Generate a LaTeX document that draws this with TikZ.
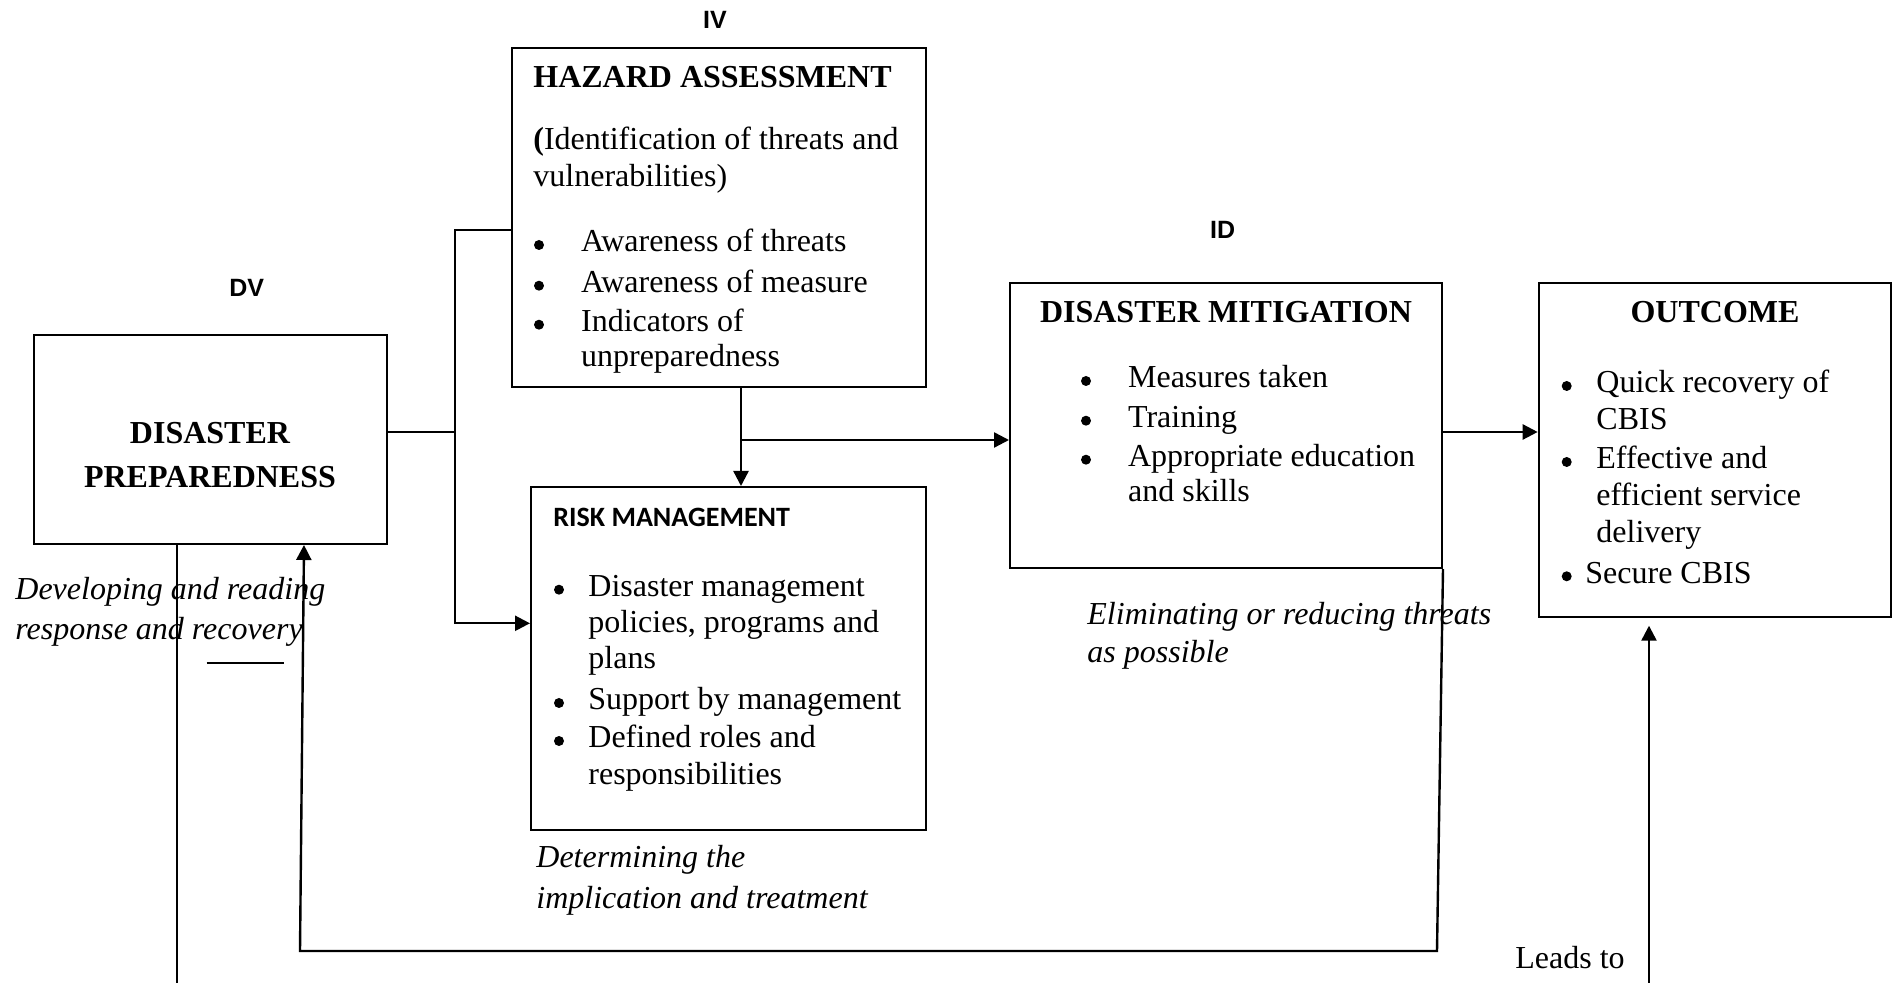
\documentclass[tikz,border=0pt]{standalone}
\usepackage{fontspec}
\setmainfont{Liberation Serif}
\newfontfamily\labelfont{Liberation Sans}
\newfontfamily\calibrifont{Carlito}
\usetikzlibrary{arrows.meta,fit}

\begin{document}
\begin{tikzpicture}[x=0.5pt, y=-0.5pt,
    boxline/.style={draw, line width=1pt, inner sep=0pt},
    textline/.style={anchor=base west, inner sep=0pt, font=\fontsize{16}{19}\selectfont},
    notetext/.style={textline, font=\fontsize{16}{19}\selectfont\itshape},
    boldhead/.style={inner sep=0pt, font=\fontsize{16}{19}\selectfont\bfseries},
    varlabel/.style={inner sep=0pt, font=\fontsize{12.5}{15}\selectfont\labelfont\bfseries},
    bulletdot/.style={circle, fill, inner sep=0pt, minimum size=5pt},
    plainline/.style={line width=1pt},
    arrowline/.style={line width=1.2pt, -{Triangle[length=7.5pt, width=7.5pt]}}]
  \useasboundingbox (0,0) rectangle (1892,983);

  % Boxes
  \node[boxline, fit={(33.7,335) (387,544)}] (prep) {};
  \node[boxline, fit={(512,47.7) (926,386.7)}] (hazard) {};
  \node[boxline, fit={(531,487) (926,830)}] (risk) {};
  \node[boxline, fit={(1010,282.7) (1442,568)}] (mitig) {};
  \node[boxline, fit={(1538.7,282.7) (1891,616.7)}] (outcome) {};

  % Variable labels
  \node[varlabel] (dv) at (246.7,288.3) {DV};
  \node[varlabel] (iv) at (715,20) {IV};
  \node[varlabel] (id) at (1222.7,230) {ID};

  % Disaster preparedness
  \node[boldhead, anchor=base] (prepA) at (210,443.3) {DISASTER};
  \node[boldhead, anchor=base] (prepB) at (210,487.3) {PREPAREDNESS};

  % Hazard assessment
  \node[boldhead, anchor=base west] (hazT) at (533,87.3) {HAZARD ASSESSMENT};
  \node[textline] (hazS1) at (533,150) {{\bfseries(}Identification of threats and};
  \node[textline] (hazS2) at (533,186.7) {vulnerabilities)};
  \foreach \y [count=\i] in {252,292.7,331.7}
    \node[bulletdot] (hazB\i) at (539,\y-7) {};
  \foreach \y/\txt [count=\i] in {252/Awareness of threats, 292.7/Awareness of measure,
      331.7/Indicators of, 366.7/unpreparedness}
    \node[textline] (haz\i) at (580.7,\y) {\txt};

  % Risk management
  \node[anchor=base west, inner sep=0pt, font=\fontsize{14}{17}\selectfont\calibrifont\bfseries]
    (riskT) at (553,526.7) {RISK MANAGEMENT};
  \foreach \y [count=\i] in {596.7,710,748}
    \node[bulletdot] (riskB\i) at (559,\y-7) {};
  \foreach \y/\txt [count=\i] in {596.7/Disaster management, 633/{policies, programs and},
      669/plans, 710/Support by management, 748/Defined roles and, 785/responsibilities}
    \node[textline] (risk\i) at (588,\y) {\txt};

  % Disaster mitigation
  \node[boldhead, anchor=base] (mitigT) at (1226,322.7) {DISASTER MITIGATION};
  \foreach \y [count=\i] in {388,427.7,466.7}
    \node[bulletdot] (mitigB\i) at (1086,\y-7) {};
  \foreach \y/\txt [count=\i] in {388/Measures taken, 427.7/Training,
      466.7/Appropriate education, 501.7/and skills}
    \node[textline] (mitig\i) at (1127.7,\y) {\txt};

  % Outcome
  \node[boldhead, anchor=base] (outT) at (1715,322.7) {OUTCOME};
  \foreach \y [count=\i] in {393,469,583.3}
    \node[bulletdot] (outB\i) at (1566.7,\y-7) {};
  \foreach \y/\txt [count=\i] in {393/Quick recovery of, 430/CBIS, 469/Effective and,
      506/efficient service, 542.7/delivery}
    \node[textline] (out\i) at (1596,\y) {\txt};
  \node[textline] (out6) at (1585,583.3) {Secure CBIS};

  % Italic notes
  \node[notetext] (noteA1) at (15,600) {Developing and reading};
  \node[notetext] (noteA2) at (15,640) {response and recovery};
  \node[notetext] (noteB1) at (536,868) {Determining the};
  \node[notetext] (noteB2) at (536,908) {implication and treatment};
  \node[notetext] (noteC1) at (1087,625) {Eliminating or reducing threats};
  \node[notetext] (noteC2) at (1087,663) {as possible};
  \node[textline] (leads) at (1515,968.3) {Leads to};

  % Junction points
  \coordinate (hub) at (454.7,431.7);
  \coordinate (busTop) at (454.7,230);
  \coordinate (busBot) at (454.7,623.3);
  \coordinate (drop) at (741,440);
  \coordinate (outY) at (1500,432);
  \coordinate (loopR) at (1437,951);
  \coordinate (loopL) at (304,951);
  \coordinate (exitB) at (176.7,983);
  \coordinate (leadB) at (1649,983);

  % Connectors
  \draw[plainline] (prep.east |- hub) -- (hub);
  \draw[arrowline] (hazard.west |- busTop) -- (busTop) -- (busBot) -- (risk.west |- busBot);
  \draw[arrowline] (hazard.south -| drop) -- (risk.north -| drop);
  \draw[arrowline] (drop) -- (mitig.west |- drop);
  \draw[arrowline] (mitig.east |- outY) -- (outcome.west |- outY);
  \draw[arrowline] (mitig.south east) -- (loopR) -- ([xshift=-2pt]loopL) -- (prep.south -| loopL);
  \draw[plainline] (prep.south -| exitB) -- (exitB);
  \draw[arrowline, shorten >=4pt] (leadB) -- (outcome.south -| leadB);
  \draw[plainline] (206.7,663.3) -- (284,663.3);
\end{tikzpicture}
\end{document}
